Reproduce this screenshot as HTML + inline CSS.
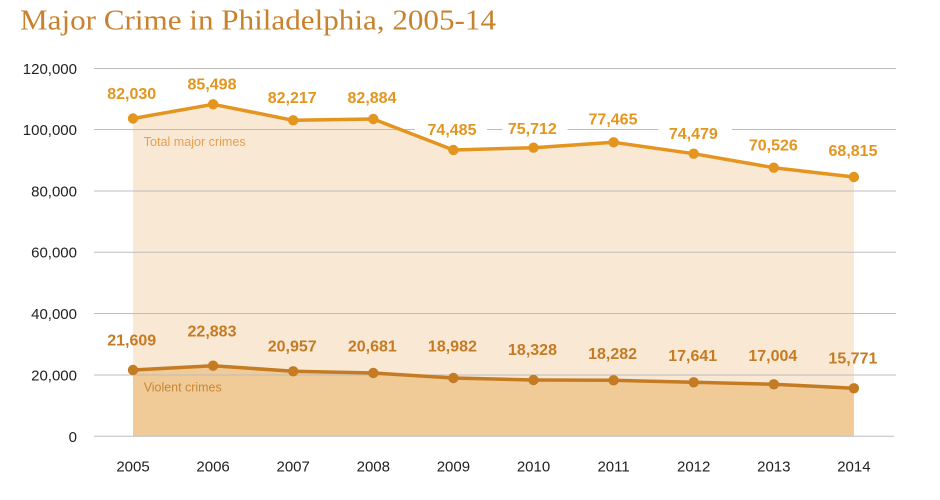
<!DOCTYPE html>
<html>
<head>
<meta charset="utf-8">
<style>
  html,body{margin:0;padding:0;background:#fff;}
  svg{display:block;}
  .ax{font-family:"Liberation Sans",sans-serif;font-size:15px;fill:#222;}
  .vt{font-family:"Liberation Sans",sans-serif;font-size:16px;font-weight:bold;fill:#E3951F;text-anchor:middle;}
  .vv{font-family:"Liberation Sans",sans-serif;font-size:16px;font-weight:bold;fill:#C47B23;text-anchor:middle;}
</style>
</head>
<body>
<svg width="940" height="500" viewBox="0 0 940 500" xmlns="http://www.w3.org/2000/svg">
  <rect width="940" height="500" fill="#fff"/>
  <!-- title -->
  <text x="20" y="29.5" font-family="'Liberation Serif',serif" font-size="29" fill="#C8822E" textLength="476" lengthAdjust="spacingAndGlyphs">Major Crime in Philadelphia, 2005-14</text>

  <!-- areas -->
  <polygon fill="#F8E8D4" points="133,436.3 133,118.5 213.1,104.3 293.2,120.3 373.3,119 453.4,150 533.5,147.7 613.6,142.3 693.7,153.7 773.8,167.7 853.9,177 853.9,436.3"/>
  <polygon fill="#F0CB98" points="133,436.3 133,370 213.1,365.7 293.2,371.3 373.3,373 453.4,378 533.5,380 613.6,380.3 693.7,382.3 773.8,384.3 853.9,388.3 853.9,436.3"/>

  <!-- gridlines -->
  <g stroke="#BDBDBD" stroke-width="1">
    <line x1="94" y1="68.5" x2="896" y2="68.5"/>
    <line x1="94" y1="129.5" x2="896" y2="129.5"/>
    <line x1="94" y1="191" x2="896" y2="191"/>
    <line x1="94" y1="252.2" x2="896" y2="252.2"/>
    <line x1="94" y1="313.5" x2="896" y2="313.5"/>
    <line x1="94" y1="375" x2="896" y2="375"/>
    <line x1="94" y1="436.3" x2="894" y2="436.3"/>
  </g>

  <!-- label backgrounds interrupting gridline -->
  <rect x="415" y="123" width="72" height="14" fill="#fff"/>
  <rect x="502.5" y="123" width="65" height="14" fill="#fff"/>
  <rect x="658.5" y="124" width="73.5" height="14" fill="#fff"/>

  <!-- y axis labels -->
  <g class="ax" text-anchor="end">
    <text x="77" y="74">120,000</text>
    <text x="77" y="135">100,000</text>
    <text x="77" y="196.5">80,000</text>
    <text x="77" y="257.7">60,000</text>
    <text x="77" y="319">40,000</text>
    <text x="77" y="380.5">20,000</text>
    <text x="77" y="441.8">0</text>
  </g>

  <!-- x axis labels -->
  <g class="ax" text-anchor="middle">
    <text x="133" y="471.7">2005</text>
    <text x="213.1" y="471.7">2006</text>
    <text x="293.2" y="471.7">2007</text>
    <text x="373.3" y="471.7">2008</text>
    <text x="453.4" y="471.7">2009</text>
    <text x="533.5" y="471.7">2010</text>
    <text x="613.6" y="471.7">2011</text>
    <text x="693.7" y="471.7">2012</text>
    <text x="773.8" y="471.7">2013</text>
    <text x="853.9" y="471.7">2014</text>
  </g>

  <!-- series lines -->
  <polyline fill="none" stroke="#E3951F" stroke-width="3.5" stroke-linejoin="round" points="133,118.5 213.1,104.3 293.2,120.3 373.3,119 453.4,150 533.5,147.7 613.6,142.3 693.7,153.7 773.8,167.7 853.9,177"/>
  <polyline fill="none" stroke="#C47B23" stroke-width="3.5" stroke-linejoin="round" points="133,370 213.1,365.7 293.2,371.3 373.3,373 453.4,378 533.5,380 613.6,380.3 693.7,382.3 773.8,384.3 853.9,388.3"/>

  <g fill="#E3951F">
    <circle cx="133" cy="118.5" r="5.2"/>
    <circle cx="213.1" cy="104.3" r="5.2"/>
    <circle cx="293.2" cy="120.3" r="5.2"/>
    <circle cx="373.3" cy="119" r="5.2"/>
    <circle cx="453.4" cy="150" r="5.2"/>
    <circle cx="533.5" cy="147.7" r="5.2"/>
    <circle cx="613.6" cy="142.3" r="5.2"/>
    <circle cx="693.7" cy="153.7" r="5.2"/>
    <circle cx="773.8" cy="167.7" r="5.2"/>
    <circle cx="853.9" cy="177" r="5.2"/>
  </g>
  <g fill="#C47B23">
    <circle cx="133" cy="370" r="5.2"/>
    <circle cx="213.1" cy="365.7" r="5.2"/>
    <circle cx="293.2" cy="371.3" r="5.2"/>
    <circle cx="373.3" cy="373" r="5.2"/>
    <circle cx="453.4" cy="378" r="5.2"/>
    <circle cx="533.5" cy="380" r="5.2"/>
    <circle cx="613.6" cy="380.3" r="5.2"/>
    <circle cx="693.7" cy="382.3" r="5.2"/>
    <circle cx="773.8" cy="384.3" r="5.2"/>
    <circle cx="853.9" cy="388.3" r="5.2"/>
  </g>

  <!-- series name labels -->
  <text x="143.7" y="146" font-family="'Liberation Sans',sans-serif" font-size="12.5" fill="#E8A04C" textLength="102" lengthAdjust="spacingAndGlyphs">Total major crimes</text>
  <text x="143.7" y="391.7" font-family="'Liberation Sans',sans-serif" font-size="12.5" fill="#C98634" textLength="78" lengthAdjust="spacingAndGlyphs">Violent crimes</text>

  <!-- total value labels -->
  <text class="vt" x="131.7" y="99">82,030</text>
  <text class="vt" x="212" y="89.5">85,498</text>
  <text class="vt" x="292.2" y="103">82,217</text>
  <text class="vt" x="372" y="103">82,884</text>
  <text class="vt" x="452" y="135">74,485</text>
  <text class="vt" x="532.3" y="134">75,712</text>
  <text class="vt" x="613" y="124.7">77,465</text>
  <text class="vt" x="693.3" y="139">74,479</text>
  <text class="vt" x="773.3" y="150.7">70,526</text>
  <text class="vt" x="853" y="156">68,815</text>

  <!-- violent value labels -->
  <text class="vv" x="131.7" y="345.7">21,609</text>
  <text class="vv" x="212" y="336.7">22,883</text>
  <text class="vv" x="292.2" y="351.7">20,957</text>
  <text class="vv" x="372.3" y="351.7">20,681</text>
  <text class="vv" x="452.4" y="351.7">18,982</text>
  <text class="vv" x="532.5" y="355">18,328</text>
  <text class="vv" x="612.6" y="359">18,282</text>
  <text class="vv" x="692.7" y="361">17,641</text>
  <text class="vv" x="772.8" y="361">17,004</text>
  <text class="vv" x="852.9" y="363.3">15,771</text>
</svg>
</body>
</html>
